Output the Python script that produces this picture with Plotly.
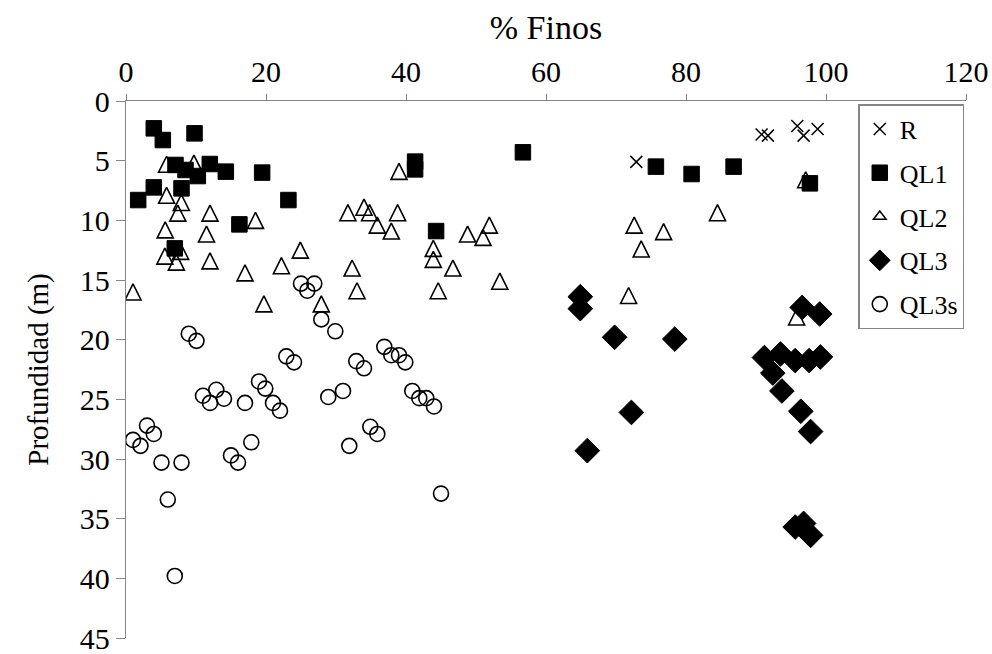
import plotly.graph_objects as go

# ---- data ----
r_x = [72.9, 90.8, 91.7, 95.9, 96.8, 98.8]
r_y = [5.1, 2.8, 2.9, 2.1, 2.9, 2.35]

ql1_x = [3.97, 5.26, 9.79, 7.07, 8.5, 10.26, 11.97, 14.26, 19.45, 3.97, 7.93, 1.74,
         23.2, 16.2, 6.97, 41.3, 41.3, 56.7, 44.3, 75.7, 80.8, 86.8, 97.7]
ql1_y = [2.29, 3.27, 2.71, 5.36, 5.78, 6.29, 5.28, 5.92, 6.0, 7.24, 7.32, 8.3,
         8.3, 10.34, 12.35, 5.08, 5.73, 4.3, 10.9, 5.5, 6.12, 5.5, 6.9]

ql2_x = [5.8, 9.7, 5.8, 7.9, 7.4, 12.0, 18.5, 5.6, 11.5, 24.9, 5.55, 7.8, 7.2, 12.0,
         17.0, 22.2, 32.3, 1.0, 31.7, 34.0, 34.8, 35.9, 33.0, 19.7, 27.9, 39.0, 38.8,
         37.9, 43.9, 43.9, 46.7, 48.8, 51.9, 51.0, 53.4, 44.6, 72.6, 73.6, 71.8, 76.8,
         84.5, 97.1, 95.8]
ql2_y = [5.3, 5.2, 7.9, 8.5, 9.4, 9.4, 10.0, 10.8, 11.15, 12.5, 13.0, 12.6, 13.5, 13.4,
         14.4, 13.8, 14.0, 16.0, 9.36, 8.9, 9.36, 10.4, 15.9, 17.0, 17.0, 5.9, 9.36,
         10.9, 12.35, 13.27, 14.0, 11.15, 10.4, 11.43, 15.1, 15.9, 10.4, 12.4, 16.3, 10.95,
         9.36, 6.6, 18.1]

ql3_x = [64.9, 64.9, 69.8, 78.4, 72.2, 65.9, 96.6, 99.1, 91.2, 93.5, 95.6, 97.6,
         99.2, 92.4, 93.7, 96.4, 97.8, 95.6, 96.8, 97.8]
ql3_y = [16.4, 17.4, 19.8, 19.95, 26.1, 29.3, 17.3, 17.85, 21.5, 21.2, 21.75, 21.75,
         21.45, 22.8, 24.3, 26.0, 27.7, 35.7, 35.4, 36.4]

ql3s_x = [8.97, 10.07, 1.0, 2.07, 3.0, 3.97, 5.07, 7.93, 11.0, 12.0, 12.9, 14.0, 17.0,
          17.9, 15.0, 16.0, 19.0, 19.9, 21.0, 22.0, 22.9, 24.0, 27.9, 29.9, 28.9, 31.0,
          31.9, 32.9, 34.0, 34.9, 35.9, 36.9, 25.0, 25.9, 26.9, 37.9, 39.0, 39.9, 40.9,
          41.9, 42.9, 44.0, 5.97, 6.97, 45.0]
ql3s_y = [19.5, 20.1, 28.4, 28.9, 27.2, 27.9, 30.3, 30.3, 24.7, 25.3, 24.2, 24.95, 25.3,
          28.6, 29.7, 30.3, 23.5, 24.1, 25.3, 25.95, 21.4, 21.9, 18.3, 19.3, 24.8, 24.3,
          28.9, 21.8, 22.4, 27.3, 27.9, 20.6, 15.3, 15.9, 15.3, 21.3, 21.3, 21.9, 24.3,
          24.9, 24.9, 25.6, 33.4, 39.8, 32.9]

FONT = "Liberation Serif, Times New Roman, serif"
AX = "#868686"
CLEAR = "rgba(0,0,0,0)"

fig = go.Figure()
fig.add_trace(go.Scatter(x=r_x, y=r_y, mode="markers", name="R", legendgroup="g1",
                         marker=dict(symbol="x-thin", size=12,
                                     line=dict(color="black", width=1.5))))
fig.add_trace(go.Scatter(x=ql1_x, y=ql1_y, mode="markers", name="QL1", legendgroup="g2",
                         marker=dict(symbol="square", size=15.5, color="black",
                                     line=dict(color="black", width=1))))
# isosceles triangle, centred on the data point
fig.add_trace(go.Scatter(x=ql2_x, y=ql2_y, mode="markers", name="QL2", legendgroup="g3",
                         showlegend=False,
                         marker=dict(symbol="arrow-down", angle=180, size=16, standoff=8,
                                     color=CLEAR, line=dict(color="black", width=1.6))))
# legend entry for QL2 (no data of its own)
fig.add_trace(go.Scatter(x=[None], y=[None], mode="markers", name="QL2", legendgroup="g3",
                         marker=dict(symbol="triangle-up", size=11, color=CLEAR,
                                     line=dict(color="black", width=1.5))))
fig.add_trace(go.Scatter(x=ql3_x, y=ql3_y, mode="markers", name="QL3", legendgroup="g4",
                         marker=dict(symbol="diamond", size=19, color="black",
                                     line=dict(color="black", width=1))))
fig.add_trace(go.Scatter(x=ql3s_x, y=ql3s_y, mode="markers", name="QL3s", legendgroup="g5",
                         marker=dict(symbol="circle", size=15, color=CLEAR,
                                     line=dict(color="black", width=1.6))))

fig.update_layout(
    width=992, height=654,
    margin=dict(l=126, r=26, t=101, b=16, pad=0),
    paper_bgcolor="white", plot_bgcolor="white",
    font=dict(family=FONT, size=26, color="black"),
    showlegend=True,
    legend=dict(x=0.872, y=0.994, xanchor="left", yanchor="top",
                bordercolor=AX, borderwidth=1.3, bgcolor="white",
                font=dict(family=FONT, size=26, color="black"),
                tracegroupgap=7, itemwidth=30),
    xaxis=dict(side="top", range=[0, 120], dtick=20, tick0=0,
               ticks="outside", ticklen=6, tickcolor=AX, tickwidth=1.3,
               showline=True, linecolor=AX, linewidth=1.3, automargin=False,
               showgrid=False, zeroline=False, ticklabeloverflow="allow",
               title=dict(text="% Finos", font=dict(family=FONT, size=34), standoff=4),
               tickfont=dict(family=FONT, size=30)),
    yaxis=dict(range=[45, 0], dtick=5, tick0=0,
               ticks="outside", ticklen=9, tickcolor=AX, tickwidth=1.3,
               showline=True, linecolor=AX, linewidth=1.3, automargin=False,
               showgrid=False, zeroline=False, ticklabeloverflow="allow",
               title=dict(text="Profundidad (m)", font=dict(family=FONT, size=29), standoff=22),
               tickfont=dict(family=FONT, size=30)),
)

fig.write_html("out.html")
